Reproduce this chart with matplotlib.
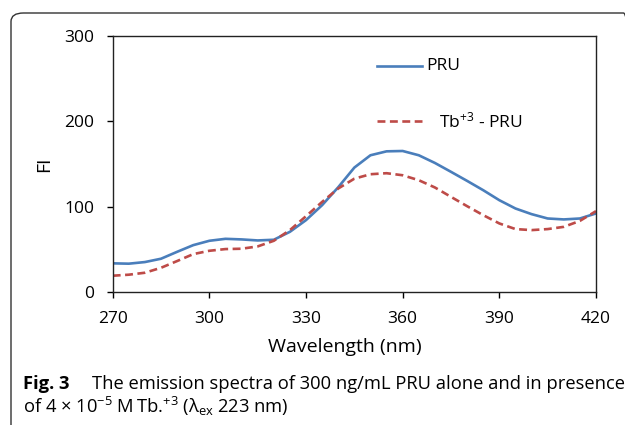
import matplotlib
matplotlib.use('Agg')
import matplotlib.pyplot as plt
from matplotlib.patches import FancyBboxPatch

# emission spectra
wavelength = [270, 275, 280, 285, 290, 295, 300, 305, 310, 315, 320, 325, 330, 335,
              340, 345, 350, 355, 360, 365, 370, 375, 380, 385, 390, 395, 400, 405,
              410, 415, 420]
fi_pru = [33.9, 33.5, 35.4, 39.3, 47.4, 55.2, 60.3, 62.6, 61.9, 60.7, 61.5, 70.8, 84.5, 102,
          123, 146, 160.4, 165, 165.4, 160.4, 151.4, 141, 130.4, 119.5, 107.8, 98.1, 91.5, 86.4,
          85.3, 86.4, 92.3]
fi_tb_pru = [19.4, 20.6, 22.9, 28.7, 36.6, 44.7, 48.6, 50.6, 51, 53.7, 60.3, 72.8, 89.1, 105.8,
             121.5, 133, 138.2, 139.4, 137, 131.2, 122.7, 111.7, 100.8, 90.3, 80.6, 74, 72.8, 74,
             76.6, 83.6, 95]
x_ticks = [270, 300, 330, 360, 390, 420]
y_ticks = [0, 100, 200, 300]

FONT = 'Open Sans'
plt.rcParams['font.family'] = [FONT, 'DejaVu Sans']
plt.rcParams['mathtext.fontset'] = 'custom'
plt.rcParams['mathtext.rm'] = FONT
plt.rcParams['mathtext.it'] = FONT + ':italic'
plt.rcParams['mathtext.bf'] = FONT + ':bold'

W, H = 625, 425
fig = plt.figure(figsize=(W / 100, H / 100), dpi=100)

# rounded frame around figure
frame = FancyBboxPatch((11 / W, -0.1), 1.0, 1.1 - 13 / H,
                       boxstyle='round,pad=0,rounding_size=0.02',
                       transform=fig.transFigure, fill=False,
                       edgecolor='#333333', linewidth=1.0)
fig.patches.append(frame)

ax = fig.add_axes([112.7 / W, 1 - 292.3 / H, (596 - 112.7) / W, (292.3 - 36) / H])

ax.plot(wavelength, fi_pru, color='#4a7ebb', lw=1.9, label='PRU')
ax.plot(wavelength, fi_tb_pru, color='#be4b48', lw=1.9, dashes=(3, 1.7),
        label='Tb$^{+3}$ - PRU')

ax.set_xlim(270, 420)
ax.set_ylim(0, 300)
ax.set_xticks(x_ticks)
ax.set_yticks(y_ticks)
ax.tick_params(direction='out', length=4.3, width=1, labelsize=12.5)
ax.tick_params(axis='x', pad=9.5)
ax.tick_params(axis='y', pad=9)
for s in ax.spines.values():
    s.set_linewidth(1.0)
    s.set_color('#222222')

ax.set_xlabel('Wavelength (nm)', fontsize=14)
ax.xaxis.set_label_coords(0.4796, -0.18)
ax.xaxis.label.set_va('top')
ax.set_ylabel('FI', fontsize=14, labelpad=8)

# legend drawn by hand
ax.plot([0.5475, 0.6406], [0.883, 0.883], transform=ax.transAxes, color='#4a7ebb', lw=1.9)
ax.text(0.649, 0.883, 'PRU', transform=ax.transAxes, fontsize=12.5, va='center')
ax.plot([0.5475, 0.6406], [0.668, 0.668], transform=ax.transAxes, color='#be4b48', lw=1.9,
        dashes=(3, 1.7))
ax.text(0.675, 0.668, 'Tb$^{+3}$ - PRU', transform=ax.transAxes, fontsize=12.5,
        va='center')

# caption
fig.text(23 / W, 1 - 389 / H, 'Fig. 3', fontsize=13.2, weight='bold', va='baseline')
fig.text(92 / W, 1 - 389 / H, 'The emission spectra of 300 ng/mL PRU alone and in presence',
         fontsize=13.2, va='baseline')
fig.text(23 / W, 1 - 413 / H,
         'of 4 × 10$^{\u2212 5}$ M\u2009Tb.$^{+3}$ (λ$_{\\mathrm{ex}}$ 223 nm)',
         fontsize=13.2, va='baseline')

fig.savefig('out.png', dpi=100)
